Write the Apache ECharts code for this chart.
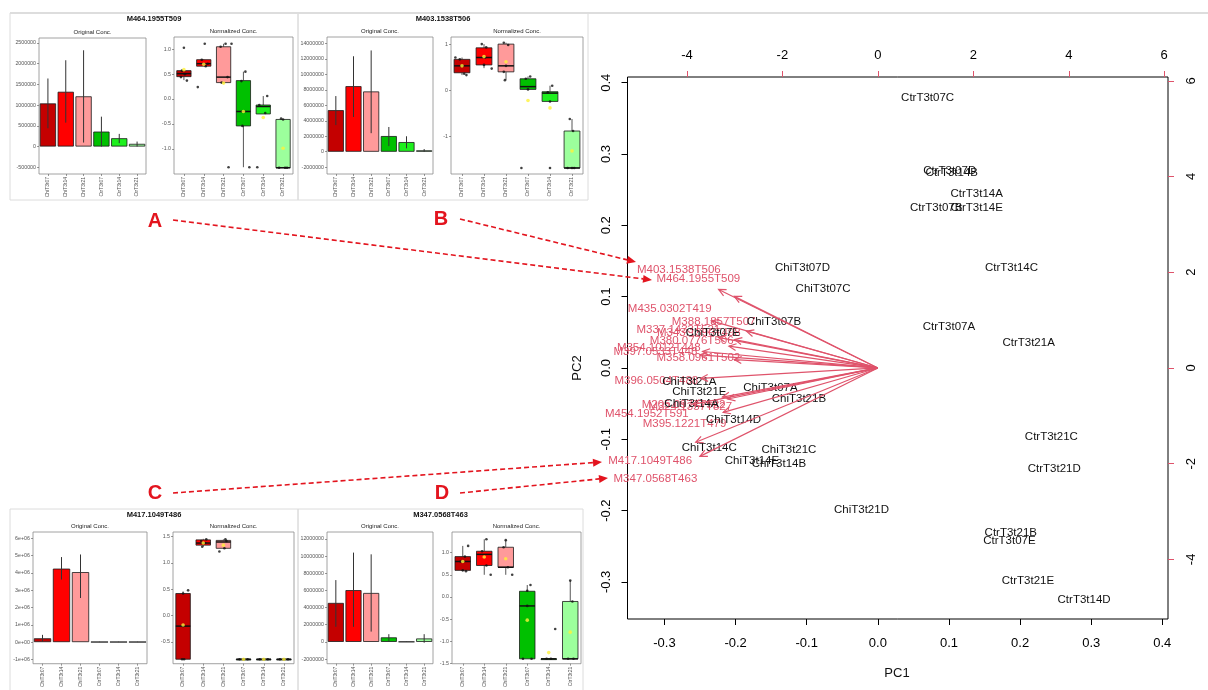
<!DOCTYPE html>
<html><head><meta charset="utf-8">
<script src="https://cdn.jsdelivr.net/npm/echarts@6/dist/echarts.min.js"></script>
<style>html,body{margin:0;padding:0;background:#fff}#c{width:1208px;height:690px}</style>
</head><body><div id="c"></div>
<script>
// ---------------- DATA ----------------
const groups = ['ChiT3t07','ChiT3t14','ChiT3t21','CtrT3t07','CtrT3t14','CtrT3t21'];

// biplot sample scores (PC1, PC2)
const sampleNames = ['CtrT3t07C','CtrT3t07D','CtrT3t14B','CtrT3t14A','CtrT3t07B','CtrT3t14E','CtrT3t14C','CtrT3t07A','CtrT3t21A','CtrT3t21C','CtrT3t21D','CtrT3t21B','CtrT3t07E','CtrT3t21E','CtrT3t14D',
  'ChiT3t07D','ChiT3t07C','ChiT3t07B','ChiT3t07E','ChiT3t21A','ChiT3t21E','ChiT3t07A','ChiT3t21B','ChiT3t14A','ChiT3t14D','ChiT3t14C','ChiT3t21C','ChiT3t14E','ChiT3t14B','ChiT3t21D'];
const samplePC1 = [0.070,0.101,0.104,0.139,0.082,0.139,0.188,0.100,0.212,0.244,0.248,0.187,0.185,0.211,0.290,
  -0.106,-0.077,-0.146,-0.232,-0.265,-0.251,-0.151,-0.111,-0.262,-0.203,-0.237,-0.125,-0.177,-0.139,-0.023];
const samplePC2 = [0.379,0.276,0.274,0.244,0.224,0.225,0.141,0.057,0.035,-0.096,-0.141,-0.231,-0.242,-0.298,-0.325,
  0.140,0.111,0.064,0.049,-0.020,-0.034,-0.028,-0.043,-0.050,-0.073,-0.112,-0.115,-0.130,-0.134,-0.199];

// biplot variable loadings
const varNames = ['M403.1538T506','M464.1955T509','M435.0302T419','M388.1857T507','M337.1433T521','M343.1390T498','M380.0776T506','M354.1012T448','M397.0533T448','M358.0961T502','M396.0504T488','M205.0977T522','M324.1357T527','M454.1952T591','M395.1221T479','M417.1049T486','M347.0568T463'];
const varLoad1 = [-4.17,-3.76,-4.36,-3.44,-4.18,-3.75,-3.90,-4.59,-4.66,-3.76,-4.64,-4.07,-3.93,-4.84,-4.05,-4.77,-4.66];
const varLoad2 = [2.05,1.87,1.23,0.96,0.80,0.74,0.57,0.43,0.34,0.22,-0.27,-0.76,-0.81,-0.95,-1.16,-1.94,-2.31];

// biplot tick labels
const pcTicks = [-0.3,-0.2,-0.1,0,0.1,0.2,0.3,0.4];
const loadTicksTop = [-4,-2,0,2,4,6];
const loadTicksRight = [-4,-2,0,2,4,6];

// Panel 1: M464.1955T509
const p1Title = 'M464.1955T509';
const p1Orig = [1040000,1320000,1210000,360000,200000,65000];
const p1ErrLo = [440000,576000,96000,0,82000,0];
const p1ErrHi = [1640000,2080000,2320000,720000,305000,120000];
const p1OrigTicks = [-500000,0,500000,1000000,1500000,2000000,2500000];
const p1Box = [[0.38,0.45,0.51,0.57,0.58],[0.66,0.66,0.71,0.79,0.80],[0.33,0.33,0.44,1.05,1.11],[-1.37,-0.54,-0.25,0.37,0.55],[-0.30,-0.30,-0.15,-0.12,0.06],[-1.38,-1.38,-1.38,-0.41,-0.40]];
const p1Pts = [[0,0.0,1.03],[0,-0.15,0.44],[0,0.05,0.5],[0,0.15,0.37],[0,-0.1,0.57],
  [1,0.05,1.11],[1,-0.3,0.24],[1,-0.1,0.79],[1,0.1,0.66],[1,0.2,0.71],
  [2,-0.15,1.05],[2,0.1,1.11],[2,0.4,1.11],[2,-0.1,0.33],[2,0.2,0.44],[2,0.25,-1.37],
  [3,-0.1,0.36],[3,0.1,0.55],[3,-0.05,-0.54],[3,0.3,-1.37],
  [4,0.2,0.06],[4,-0.2,-0.12],[4,0.1,-0.28],[4,-0.3,-1.37],
  [5,-0.1,-0.39],[5,0.0,-0.41],[5,0.1,-1.38],[5,0.2,-1.38],[5,-0.2,-1.38]];
const p1Mean = [0.59,0.70,0.32,-0.25,-0.37,-0.99];
const p1NormTicks = [-1,-0.5,0,0.5,1];

// Panel 2: M403.1538T506
const p2Title = 'M403.1538T506';
const p2Orig = [5380000,8480000,7800000,2030000,1250000,180000];
const p2ErrLo = [3450000,4500000,2400000,730000,440000,0];
const p2ErrHi = [7200000,12350000,13100000,3200000,2000000,350000];
const p2OrigTicks = [-2000000,0,2000000,4000000,6000000,8000000,10000000,12000000,14000000];
const p2Box = [[0.33,0.38,0.53,0.67,0.71],[0.48,0.55,0.71,0.92,1.0],[0.22,0.40,0.53,1.0,1.03],[0.02,0.02,0.08,0.25,0.30],[-0.24,-0.24,-0.06,-0.03,0.10],[-1.68,-1.68,-1.68,-0.88,-0.62]];
const p2Pts = [[0,-0.3,0.71],[0,0.1,0.36],[0,0.2,0.33],[0,0.0,0.53],[0,-0.1,0.67],
  [1,-0.1,1.0],[1,0.1,0.93],[1,0.0,0.55],[1,0.35,0.47],[1,0.05,0.71],
  [2,-0.1,1.03],[2,0.1,0.98],[2,-0.1,0.40],[2,-0.05,0.22],[2,0.0,0.53],
  [3,0.1,0.30],[3,-0.1,0.25],[3,0.0,0.02],[3,-0.3,-1.68],
  [4,0.1,0.10],[4,-0.1,-0.04],[4,0.0,-0.24],[4,0.0,-1.68],
  [5,-0.1,-0.62],[5,0.05,-0.88],[5,-0.2,-1.68],[5,0.0,-1.68],[5,0.1,-1.68]];
const p2Mean = [0.53,0.73,0.62,-0.22,-0.38,-1.31];
const p2NormTicks = [-1,0,1];

// Panel 3: M417.1049T486
const p3Title = 'M417.1049T486';
const p3Orig = [220000,4250000,4050000,10000,10000,10000];
const p3ErrLo = [50000,3620000,2550000,0,0,0];
const p3ErrHi = [420000,4920000,5070000,20000,20000,20000];
const p3OrigTicks = [-1000000,0,1000000,2000000,3000000,4000000,5000000,6000000];
const p3Box = [[-0.83,-0.83,-0.2,0.42,0.46],[1.31,1.34,1.38,1.44,1.46],[1.28,1.28,1.40,1.43,1.45],[-0.83,-0.83,-0.83,-0.83,-0.83],[-0.83,-0.83,-0.83,-0.83,-0.83],[-0.83,-0.83,-0.83,-0.83,-0.83]];
const p3Pts = [[0,0.25,0.48],[0,0.0,0.42],[0,0.0,-0.2],[0,-0.05,-0.83],[0,0.05,-0.83],
  [1,-0.1,1.42],[1,0.15,1.45],[1,-0.05,1.31],[1,0.1,1.38],
  [2,-0.2,1.22],[2,0.1,1.45],[2,0.15,1.42],[2,0.05,1.28],
  [3,-0.2,-0.83],[3,0.0,-0.83],[3,0.2,-0.83],
  [4,-0.2,-0.83],[4,0.0,-0.83],[4,0.2,-0.83],
  [5,-0.2,-0.83],[5,0.0,-0.83],[5,0.2,-0.83]];
const p3Mean = [-0.18,1.38,1.34,-0.83,-0.83,-0.83];
const p3NormTicks = [-0.5,0,0.5,1,1.5];

// Panel 4: M347.0568T463
const p4Title = 'M347.0568T463';
const p4Orig = [4540000,6030000,5700000,530000,20000,400000];
const p4ErrLo = [1760000,1760000,1200000,100000,0,-100000];
const p4ErrHi = [7200000,10400000,10200000,900000,40000,900000];
const p4OrigTicks = [-2000000,0,2000000,4000000,6000000,8000000,10000000,12000000];
const p4Box = [[0.58,0.60,0.80,0.91,1.15],[0.50,0.71,0.96,1.03,1.30],[0.50,0.67,0.67,1.12,1.28],[-1.39,-1.39,-0.20,0.13,0.27],[-1.39,-1.39,-1.39,-1.39,-1.39],[-1.39,-1.39,-1.39,-0.10,0.37]];
const p4Pts = [[0,0.25,1.15],[0,0.1,0.91],[0,0.15,0.58],[0,-0.1,0.8],[0,0.0,0.6],
  [1,0.1,1.3],[1,-0.1,1.03],[1,0.1,0.71],[1,0.3,0.5],
  [2,0.0,1.28],[2,-0.1,1.12],[2,0.3,0.5],[2,0.1,0.67],
  [3,0.15,0.27],[3,0.0,0.14],[3,0.0,-0.2],[3,-0.2,-1.39],[3,0.2,-1.39],
  [4,0.3,-0.72],[4,-0.1,-1.39],[4,0.1,-1.39],
  [5,0.0,0.37],[5,0.1,-0.1],[5,-0.1,-1.39],[5,0.15,-1.39]];
const p4Mean = [0.8,0.9,0.86,-0.52,-1.25,-0.79];
const p4NormTicks = [-1.5,-1,-0.5,0,0.5,1];

// ---------------- STYLE / LAYOUT ----------------
const groupColors = ['#C40000','#FF0000','#FF9A9A','#00C000','#1EF01E','#9CFF9C'];
const FONT = 'Liberation Sans, Arial, sans-serif';
const RED = '#DF536B';
const ANN = '#E3141E';
const intFmt = v => String(Math.round(v));
const expFmt = v => { if (v === 0) return '0e+00'; const e = Math.floor(Math.log10(Math.abs(v)) + 1e-9); const m = Math.round(v / Math.pow(10, e)); return m + 'e+' + String(e).padStart(2, '0'); };
const fix1 = v => v.toFixed(1);
const intSimple = v => String(v);

const panelDefs = [
  {title:p1Title, orig:p1Orig, lo:p1ErrLo, hi:p1ErrHi, oTicks:p1OrigTicks, oFmt:intFmt, oRange:[-662000,2616000], box:p1Box, pts:p1Pts, means:p1Mean, nTicks:p1NormTicks, nFmt:fix1, nRange:[-1.506,1.246],
   o:[39,38,107,136], n:[174,37,119,137], rect:[10,13,288,187], titleY:19},
  {title:p2Title, orig:p2Orig, lo:p2ErrLo, hi:p2ErrHi, oTicks:p2OrigTicks, oFmt:intFmt, oRange:[-2880000,14840000], box:p2Box, pts:p2Pts, means:p2Mean, nTicks:p2NormTicks, nFmt:intSimple, nRange:[-1.81,1.154],
   o:[327,37,106,137], n:[451,37,132,137], rect:[298,13,290,187], titleY:19},
  {title:p3Title, orig:p3Orig, lo:p3ErrLo, hi:p3ErrHi, oTicks:p3OrigTicks, oFmt:expFmt, oRange:[-1250000,6370000], box:p3Box, pts:p3Pts, means:p3Mean, nTicks:p3NormTicks, nFmt:fix1, nRange:[-0.915,1.59],
   o:[33,532,114,136], n:[173,532,121,136], rect:[10,509,288,190], titleY:515},
  {title:p4Title, orig:p4Orig, lo:p4ErrLo, hi:p4ErrHi, oTicks:p4OrigTicks, oFmt:intFmt, oRange:[-2540000,12800000], box:p4Box, pts:p4Pts, means:p4Mean, nTicks:p4NormTicks, nFmt:fix1, nRange:[-1.5,1.463],
   o:[327,532,106,136], n:[452,532,129,136], rect:[298,509,285,190], titleY:515}
];

const grids = [], xAxes = [], yAxes = [], series = [], graphics = [];

// ---- main biplot ----
const mainRange = [-0.352, 0.408];
const loadRange = [-5.245, 6.079];
grids.push({left:627.5, top:77, width:540.5, height:542, show:true, borderColor:'#000', borderWidth:1, backgroundColor:'transparent'});
const mainTickLabel = {color:'#000', fontSize:13, fontFamily:FONT};
const noLine = {show:false, onZero:false};
xAxes.push({type:'value', gridIndex:0, position:'bottom', min:mainRange[0], max:mainRange[1],
  axisLine:noLine, splitLine:{show:false},
  axisTick:{show:true, length:6, lineStyle:{color:'#000'}, customValues:pcTicks},
  axisLabel:Object.assign({customValues:pcTicks, formatter:fix1, margin:18}, mainTickLabel)});
xAxes.push({type:'value', gridIndex:0, position:'top', min:loadRange[0], max:loadRange[1],
  axisLine:noLine, splitLine:{show:false},
  axisTick:{show:true, length:6, lineStyle:{color:RED}, customValues:loadTicksTop},
  axisLabel:Object.assign({customValues:loadTicksTop, formatter:intSimple, margin:15}, mainTickLabel)});
yAxes.push({type:'value', gridIndex:0, position:'left', min:mainRange[0], max:mainRange[1],
  axisLine:noLine, splitLine:{show:false},
  axisTick:{show:true, length:6, lineStyle:{color:'#000'}, customValues:pcTicks},
  axisLabel:Object.assign({customValues:pcTicks, formatter:fix1, margin:15, rotate:90}, mainTickLabel)});
yAxes.push({type:'value', gridIndex:0, position:'right', min:loadRange[0], max:loadRange[1],
  axisLine:noLine, splitLine:{show:false},
  axisTick:{show:true, length:6, lineStyle:{color:RED}, customValues:loadTicksRight},
  axisLabel:Object.assign({customValues:loadTicksRight, formatter:intSimple, margin:17, rotate:90}, mainTickLabel)});

series.push({type:'custom', xAxisIndex:0, yAxisIndex:0, silent:true, z:5,
  data: samplePC1.map((x,i)=>[x, samplePC2[i], i]),
  renderItem:(p, api)=>{ const c = api.coord([api.value(0), api.value(1)]);
    return {type:'text', x:c[0], y:c[1], style:{text:sampleNames[api.value(2)], align:'center', verticalAlign:'middle', fontSize:11.5, fontFamily:FONT, fill:'#111'}}; }});
series.push({type:'custom', xAxisIndex:1, yAxisIndex:1, silent:true, z:4,
  data: varLoad1.map((x,i)=>[x, varLoad2[i], i]),
  renderItem:(p, api)=>{ const c = api.coord([api.value(0), api.value(1)]);
    return {type:'text', x:c[0], y:c[1], style:{text:varNames[api.value(2)], align:'center', verticalAlign:'middle', fontSize:11.5, fontFamily:FONT, fill:RED}}; }});
series.push({type:'custom', xAxisIndex:1, yAxisIndex:1, silent:true, z:6,
  data: varLoad1.map((x,i)=>[x, varLoad2[i]]),
  renderItem:(p, api)=>{ const o = api.coord([0,0]); const t = api.coord([0.8*api.value(0), 0.8*api.value(1)]);
    const ang = Math.atan2(t[1]-o[1], t[0]-o[0]); const L = 8, a = Math.PI/7;
    const h1 = [t[0]-L*Math.cos(ang-a), t[1]-L*Math.sin(ang-a)];
    const h2 = [t[0]-L*Math.cos(ang+a), t[1]-L*Math.sin(ang+a)];
    return {type:'group', children:[
      {type:'line', shape:{x1:o[0], y1:o[1], x2:t[0], y2:t[1]}, style:{stroke:RED, lineWidth:1.2}},
      {type:'polyline', shape:{points:[h1, t, h2]}, style:{stroke:RED, lineWidth:1.2, fill:null}}]}; }});

// ---- small panels ----
function catAxis(g){
  return {type:'category', gridIndex:g, data:groups, position:'bottom',
    axisLine:{show:false, onZero:false}, splitLine:{show:false},
    axisTick:{show:true, alignWithLabel:true, length:2, lineStyle:{color:'#555', width:0.6}},
    axisLabel:{rotate:90, fontSize:5, color:'#555', margin:3, interval:0, fontFamily:FONT}};
}
function valAxis(g, range, ticks, fmt){
  return {type:'value', gridIndex:g, position:'left', min:range[0], max:range[1],
    axisLine:{show:false, onZero:false}, splitLine:{show:false},
    axisTick:{show:true, length:2, lineStyle:{color:'#555', width:0.6}, customValues:ticks},
    axisLabel:{customValues:ticks, formatter:fmt, fontSize:5.3, color:'#555', margin:3, fontFamily:FONT}};
}
panelDefs.forEach(P => {
  // original conc.
  const gO = grids.length;
  grids.push({left:P.o[0], top:P.o[1], width:P.o[2], height:P.o[3], show:true, borderColor:'#8a8a8a', borderWidth:0.8, backgroundColor:'#fff'});
  const xO = xAxes.length; xAxes.push(catAxis(gO));
  const yO = yAxes.length; yAxes.push(valAxis(gO, P.oRange, P.oTicks, P.oFmt));
  series.push({type:'bar', xAxisIndex:xO, yAxisIndex:yO, silent:true, barCategoryGap:'9%',
    itemStyle:{borderColor:'#1a1a1a', borderWidth:0.8},
    data:P.orig.map((v,i)=>({value:v, itemStyle:{color:groupColors[i]}}))});
  series.push({type:'custom', xAxisIndex:xO, yAxisIndex:yO, silent:true, z:3,
    data:P.lo.map((v,i)=>[i, v, P.hi[i]]),
    renderItem:(p, api)=>{ const a = api.coord([api.value(0), api.value(1)]); const b = api.coord([api.value(0), api.value(2)]);
      return {type:'line', shape:{x1:a[0], y1:a[1], x2:b[0], y2:b[1]}, style:{stroke:'#333', lineWidth:1}}; }});
  // normalized conc.
  const gN = grids.length;
  grids.push({left:P.n[0], top:P.n[1], width:P.n[2], height:P.n[3], show:true, borderColor:'#8a8a8a', borderWidth:0.8, backgroundColor:'#fff'});
  const xN = xAxes.length; xAxes.push(catAxis(gN));
  const xV = xAxes.length; xAxes.push({type:'value', gridIndex:gN, min:-0.5, max:5.5, show:false, axisLine:{onZero:false}});
  const yN = yAxes.length; yAxes.push(valAxis(gN, P.nRange, P.nTicks, P.nFmt));
  series.push({type:'custom', xAxisIndex:xN, yAxisIndex:yN, silent:true, z:2,
    data:P.box.map((b,i)=>[i].concat(b)),
    renderItem:(p, api)=>{ const i = api.value(0);
      const pt = k => api.coord([i, api.value(k)]);
      const mn = pt(1), q1 = pt(2), md = pt(3), q3 = pt(4), mx = pt(5);
      const w = api.size([1,0])[0]*0.72; const x = mn[0];
      return {type:'group', children:[
        {type:'line', shape:{x1:x, y1:mx[1], x2:x, y2:q3[1]}, style:{stroke:'#444', lineWidth:0.9}},
        {type:'line', shape:{x1:x, y1:q1[1], x2:x, y2:mn[1]}, style:{stroke:'#444', lineWidth:0.9}},
        {type:'rect', shape:{x:x-w/2, y:q3[1], width:w, height:Math.max(q1[1]-q3[1], 0.8)}, style:{fill:groupColors[i], stroke:'#1a1a1a', lineWidth:0.8}},
        {type:'line', shape:{x1:x-w/2, y1:md[1], x2:x+w/2, y2:md[1]}, style:{stroke:'#111', lineWidth:1.5}}]}; }});
  series.push({type:'scatter', xAxisIndex:xV, yAxisIndex:yN, silent:true, z:4, symbolSize:2.6,
    itemStyle:{color:'#111'}, data:P.pts.map(q=>[q[0]+q[1], q[2]])});
  series.push({type:'scatter', xAxisIndex:xV, yAxisIndex:yN, silent:true, z:5, symbolSize:3.6,
    itemStyle:{color:'#FFF23A'}, data:P.means.map((m,i)=>[i, m])});
  // frames and titles
  graphics.push({type:'rect', shape:{x:P.rect[0], y:P.rect[1], width:P.rect[2], height:P.rect[3]}, style:{fill:null, stroke:'#dcdcdc', lineWidth:1}, z:-1});
  graphics.push({type:'text', x:P.rect[0]+P.rect[2]/2, y:P.titleY, style:{text:P.title, align:'center', verticalAlign:'middle', font:'bold 7.5px '+FONT, fill:'#111'}});
  graphics.push({type:'text', x:P.o[0]+P.o[2]/2, y:P.o[1]-6, style:{text:'Original Conc.', align:'center', verticalAlign:'middle', font:'6px '+FONT, fill:'#222'}});
  graphics.push({type:'text', x:P.n[0]+P.n[2]/2, y:P.n[1]-6, style:{text:'Normalized Conc.', align:'center', verticalAlign:'middle', font:'6px '+FONT, fill:'#222'}});
});

// top light line
graphics.push({type:'line', shape:{x1:10, y1:13, x2:1208, y2:13}, style:{stroke:'#dddddd', lineWidth:2}});
// axis titles
graphics.push({type:'text', x:897, y:673, style:{text:'PC1', align:'center', verticalAlign:'middle', font:'13px '+FONT, fill:'#111'}});
graphics.push({type:'text', x:577, y:368, rotation:Math.PI/2, style:{text:'PC2', align:'center', verticalAlign:'middle', font:'13px '+FONT, fill:'#111'}});

// annotation letters and dashed arrows
function annArrow(x1,y1,x2,y2){
  const ang = Math.atan2(y2-y1, x2-x1), L = 9, W = 4;
  const bx = x2 - L*Math.cos(ang), by = y2 - L*Math.sin(ang);
  graphics.push({type:'line', shape:{x1, y1, x2:bx, y2:by}, style:{stroke:ANN, lineWidth:1.6, lineDash:[5,3]}});
  graphics.push({type:'polygon', shape:{points:[[x2,y2],[bx - W*Math.sin(ang), by + W*Math.cos(ang)],[bx + W*Math.sin(ang), by - W*Math.cos(ang)]]}, style:{fill:ANN}});
}
[['A',155,221],['B',441,219],['C',155,493],['D',442,493]].forEach(l=>{
  graphics.push({type:'text', x:l[1], y:l[2], style:{text:l[0], align:'center', verticalAlign:'middle', font:'bold 20px '+FONT, fill:ANN}});
});
annArrow(173,220,652,280);
annArrow(460,219,636,262);
annArrow(173,493,602,462);
annArrow(460,493,608,478);

const chart = echarts.init(document.getElementById('c'), null, {renderer:'canvas'});
chart.setOption({animation:false, backgroundColor:'#fff', grid:grids, xAxis:xAxes, yAxis:yAxes, series:series, graphic:graphics});
</script></body></html>
